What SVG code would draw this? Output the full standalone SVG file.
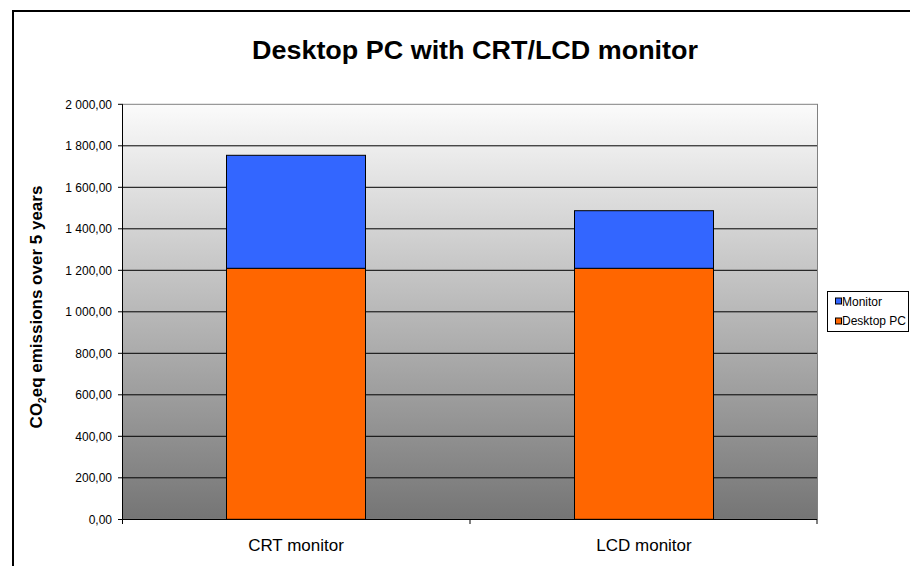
<svg xmlns="http://www.w3.org/2000/svg" width="910" height="566" viewBox="0 0 910 566">
  <defs>
    <linearGradient id="plotFill" x1="0" y1="0" x2="0" y2="1">
      <stop offset="0" stop-color="#fbfbfb"/>
      <stop offset="1" stop-color="#757575"/>
    </linearGradient>
    <style>
      text { font-family: "Liberation Sans", Arial, sans-serif; fill: #000; }
      .title { font-size: 25px; font-weight: bold; text-anchor: middle; }
      .ytitle { font-size: 17px; font-weight: bold; text-anchor: middle; }
      .tick { font-size: 12px; text-anchor: end; }
      .cat { font-size: 17px; text-anchor: middle; }
      .leg { font-size: 12px; }
      .grid { stroke: #000; stroke-width: 1; }
      .axis { stroke: #000; stroke-width: 1; fill: none; }
      .monitor { fill: #3366ff; stroke: #000; stroke-width: 1; }
      .desktop { fill: #ff6600; stroke: #000; stroke-width: 1; }
    </style>
  </defs>

  <rect x="0" y="0" width="910" height="566" fill="#fff"/>

  <!-- outer chart frame -->
  <path d="M13 570 V11 H914" fill="none" stroke="#000" stroke-width="2"/>

  <!-- title -->
  <text class="title" x="475" y="59" textLength="446" lengthAdjust="spacingAndGlyphs">Desktop PC with CRT/LCD monitor</text>

  <!-- plot area -->
  <rect x="122.5" y="104.3" width="695" height="415" fill="url(#plotFill)" stroke="#808080" stroke-width="1"/>

  <!-- gridlines -->
  <g id="gridlines">
    <line class="grid" x1="122" y1="145.8" x2="817" y2="145.8"/>
    <line class="grid" x1="122" y1="187.3" x2="817" y2="187.3"/>
    <line class="grid" x1="122" y1="228.8" x2="817" y2="228.8"/>
    <line class="grid" x1="122" y1="270.3" x2="817" y2="270.3"/>
    <line class="grid" x1="122" y1="311.8" x2="817" y2="311.8"/>
    <line class="grid" x1="122" y1="353.3" x2="817" y2="353.3"/>
    <line class="grid" x1="122" y1="394.8" x2="817" y2="394.8"/>
    <line class="grid" x1="122" y1="436.3" x2="817" y2="436.3"/>
    <line class="grid" x1="122" y1="477.8" x2="817" y2="477.8"/>
  </g>

  <!-- stacked bars -->
  <g id="bar-crt">
    <rect class="desktop" x="226.5" y="268.3" width="139" height="251"/>
    <rect class="monitor" x="226.5" y="155.3" width="139" height="113"/>
  </g>
  <g id="bar-lcd">
    <rect class="desktop" x="574.5" y="268.3" width="139" height="251"/>
    <rect class="monitor" x="574.5" y="210.7" width="139" height="57.6"/>
  </g>

  <!-- axes and tick marks -->
  <g id="axes">
    <path class="axis" d="M122.5 104.3 V519.5 H817"/>
    <path class="axis" d="M118 104.3 H122.5 M118 145.8 H122.5 M118 187.3 H122.5 M118 228.8 H122.5 M118 270.3 H122.5 M118 311.8 H122.5 M118 353.3 H122.5 M118 394.8 H122.5 M118 436.3 H122.5 M118 477.8 H122.5 M118 519.5 H122.5"/>
    <path class="axis" d="M122.5 519.5 V524 M470 519.5 V524 M817 519.5 V524"/>
  </g>

  <!-- value axis labels -->
  <g id="y-labels">
    <text class="tick" x="112" y="108.5">2 000,00</text>
    <text class="tick" x="112" y="150">1 800,00</text>
    <text class="tick" x="112" y="191.5">1 600,00</text>
    <text class="tick" x="112" y="233">1 400,00</text>
    <text class="tick" x="112" y="274.5">1 200,00</text>
    <text class="tick" x="112" y="316">1 000,00</text>
    <text class="tick" x="112" y="357.5">800,00</text>
    <text class="tick" x="112" y="399">600,00</text>
    <text class="tick" x="112" y="440.5">400,00</text>
    <text class="tick" x="112" y="482">200,00</text>
    <text class="tick" x="112" y="523.5">0,00</text>
  </g>

  <!-- value axis title -->
  <text class="ytitle" transform="translate(42 307) rotate(-90)">CO<tspan font-size="10" dy="4">2</tspan><tspan dy="-4">eq emissions over 5 years</tspan></text>

  <!-- category labels -->
  <text class="cat" x="296" y="551">CRT monitor</text>
  <text class="cat" x="644" y="551">LCD monitor</text>

  <!-- legend -->
  <g id="legend">
    <rect x="827.5" y="291.5" width="81" height="40" fill="#fff" stroke="#000" stroke-width="1"/>
    <rect class="monitor" x="835.5" y="298" width="6" height="6"/>
    <text class="leg" x="842" y="306">Monitor</text>
    <rect class="desktop" x="835.5" y="318" width="6" height="6"/>
    <text class="leg" x="842" y="324.5">Desktop PC</text>
  </g>
</svg>
